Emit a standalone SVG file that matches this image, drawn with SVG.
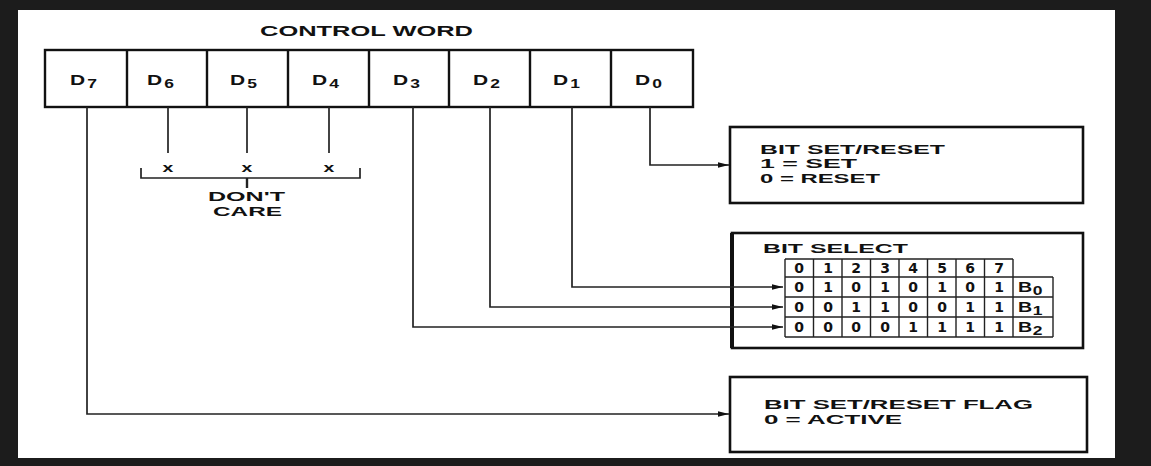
<svg xmlns="http://www.w3.org/2000/svg" width="1151" height="466" viewBox="0 0 1151 466">
<style>
text{font-family:"Liberation Sans",Arial,sans-serif;font-weight:bold;fill:#111}
.t13{font-size:13px}
.t14{font-size:14px}
.dl{font-size:15px}
.sub{font-size:12.5px}
.dg{font-family:"DejaVu Sans","Liberation Sans",sans-serif;font-size:14px;text-anchor:middle}
.box{fill:#fff;stroke:#111;stroke-width:2.6}
.cell{fill:none;stroke:#111;stroke-width:2.4}
.grid{fill:none;stroke:#222;stroke-width:1.4}
.wire{fill:none;stroke:#222;stroke-width:1.7}
</style>
<defs>
<marker id="arr" markerUnits="userSpaceOnUse" markerWidth="11" markerHeight="7" refX="11" refY="3.5" orient="auto">
<path d="M0,0.8 L11,3.5 L0,6.2 z" fill="#111"/>
</marker>
</defs>
<rect x="0" y="0" width="1151" height="466" fill="#1c1c1c"/>
<rect x="18" y="10" width="1097" height="448" fill="#fff"/>

<g id="title"><text class="t14" x="260" y="36" textLength="213" lengthAdjust="spacingAndGlyphs">CONTROL WORD</text></g>

<g id="register">
<rect class="cell" x="45" y="50" width="648" height="57"/>
<path class="cell" d="M127,50V107M207,50V107M288,50V107M369,50V107M449,50V107M530,50V107M611,50V107"/>
<g id="cell-d7" transform="translate(70,85) scale(1.4,1)"><text class="dl">D<tspan class="sub" dx="1.5" dy="3">7</tspan></text></g>
<g id="cell-d6" transform="translate(147,85) scale(1.4,1)"><text class="dl">D<tspan class="sub" dx="1.5" dy="3">6</tspan></text></g>
<g id="cell-d5" transform="translate(230,85) scale(1.4,1)"><text class="dl">D<tspan class="sub" dx="1.5" dy="3">5</tspan></text></g>
<g id="cell-d4" transform="translate(312,85) scale(1.4,1)"><text class="dl">D<tspan class="sub" dx="1.5" dy="3">4</tspan></text></g>
<g id="cell-d3" transform="translate(393,85) scale(1.4,1)"><text class="dl">D<tspan class="sub" dx="1.5" dy="3">3</tspan></text></g>
<g id="cell-d2" transform="translate(473,85) scale(1.4,1)"><text class="dl">D<tspan class="sub" dx="1.5" dy="3">2</tspan></text></g>
<g id="cell-d1" transform="translate(553,85) scale(1.4,1)"><text class="dl">D<tspan class="sub" dx="1.5" dy="3">1</tspan></text></g>
<g id="cell-d0" transform="translate(635,85) scale(1.4,1)"><text class="dl">D<tspan class="sub" dx="1.5" dy="3">0</tspan></text></g>
</g>

<g id="dontcare">
<g transform="translate(168,172) scale(1.5,1)"><text class="t13" text-anchor="middle">x</text></g>
<g transform="translate(247,172) scale(1.5,1)"><text class="t13" text-anchor="middle">x</text></g>
<g transform="translate(329,172) scale(1.5,1)"><text class="t13" text-anchor="middle">x</text></g>
<path class="wire" d="M141,168V178H360V168"/>
<path d="M247,178V188" stroke="#222" stroke-width="2.4"/>
<text class="t13" x="208" y="201" textLength="77" lengthAdjust="spacingAndGlyphs">DON'T</text>
<text class="t13" x="213" y="216" textLength="69" lengthAdjust="spacingAndGlyphs">CARE</text>
</g>

<g id="box-bit-set-reset">
<rect class="box" x="730" y="127" width="353" height="76"/>
<text class="t13" x="760" y="154" textLength="185" lengthAdjust="spacingAndGlyphs">BIT SET/RESET</text>
<text class="t13" x="760" y="168" textLength="97" lengthAdjust="spacingAndGlyphs">1 = SET</text>
<text class="t13" x="760" y="183" textLength="120" lengthAdjust="spacingAndGlyphs">0 = RESET</text>
</g>

<g id="box-bit-select">
<rect class="box" x="732" y="233" width="351" height="115"/>
<path d="M732,233V348" stroke="#111" stroke-width="4"/>
<text class="t13" x="763" y="253" textLength="145" lengthAdjust="spacingAndGlyphs">BIT SELECT</text>
<g id="table">
<path class="grid" d="M785,259H1013M785,277H1053M785,297H1053M785,317H1053M785,337H1053"/>
<path class="grid" d="M785,259V337M813.5,259V337M842,259V337M870.5,259V337M899,259V337M927.5,259V337M956,259V337M984.5,259V337M1013,259V337M1053,277V337"/>
<g>
<text class="dg" x="799" y="273">0</text><text class="dg" x="828" y="273">1</text><text class="dg" x="856" y="273">2</text><text class="dg" x="885" y="273">3</text><text class="dg" x="913" y="273">4</text><text class="dg" x="942" y="273">5</text><text class="dg" x="970" y="273">6</text><text class="dg" x="999" y="273">7</text>
<text class="dg" x="799" y="292">0</text><text class="dg" x="828" y="292">1</text><text class="dg" x="856" y="292">0</text><text class="dg" x="885" y="292">1</text><text class="dg" x="913" y="292">0</text><text class="dg" x="942" y="292">1</text><text class="dg" x="970" y="292">0</text><text class="dg" x="999" y="292">1</text>
<text class="dg" x="799" y="312">0</text><text class="dg" x="828" y="312">0</text><text class="dg" x="856" y="312">1</text><text class="dg" x="885" y="312">1</text><text class="dg" x="913" y="312">0</text><text class="dg" x="942" y="312">0</text><text class="dg" x="970" y="312">1</text><text class="dg" x="999" y="312">1</text>
<text class="dg" x="799" y="332">0</text><text class="dg" x="828" y="332">0</text><text class="dg" x="856" y="332">0</text><text class="dg" x="885" y="332">0</text><text class="dg" x="913" y="332">1</text><text class="dg" x="942" y="332">1</text><text class="dg" x="970" y="332">1</text><text class="dg" x="999" y="332">1</text>
</g>
<g transform="translate(1018,292) scale(1.4,1)"><text class="t14">B<tspan class="sub" dx="0.5" dy="3">0</tspan></text></g>
<g transform="translate(1018,312) scale(1.4,1)"><text class="t14">B<tspan class="sub" dx="0.5" dy="3">1</tspan></text></g>
<g transform="translate(1018,332) scale(1.4,1)"><text class="t14">B<tspan class="sub" dx="0.5" dy="3">2</tspan></text></g>
</g>
</g>

<g id="box-flag">
<rect class="box" x="730" y="377" width="357" height="75"/>
<text class="t13" x="764" y="409" textLength="269" lengthAdjust="spacingAndGlyphs">BIT SET/RESET FLAG</text>
<text class="t13" x="764" y="424" textLength="138" lengthAdjust="spacingAndGlyphs">0 = ACTIVE</text>
</g>

<g id="connectors">
<path class="wire" d="M168,107V153"/>
<path class="wire" d="M247,107V153"/>
<path class="wire" d="M329,107V153"/>
<path class="wire" d="M650,107V165H729" marker-end="url(#arr)"/>
<path class="wire" d="M572,107V287H783" marker-end="url(#arr)"/>
<path class="wire" d="M490,107V307H783" marker-end="url(#arr)"/>
<path class="wire" d="M413,107V327H783" marker-end="url(#arr)"/>
<path class="wire" d="M87,107V414H729" marker-end="url(#arr)"/>
</g>
</svg>
